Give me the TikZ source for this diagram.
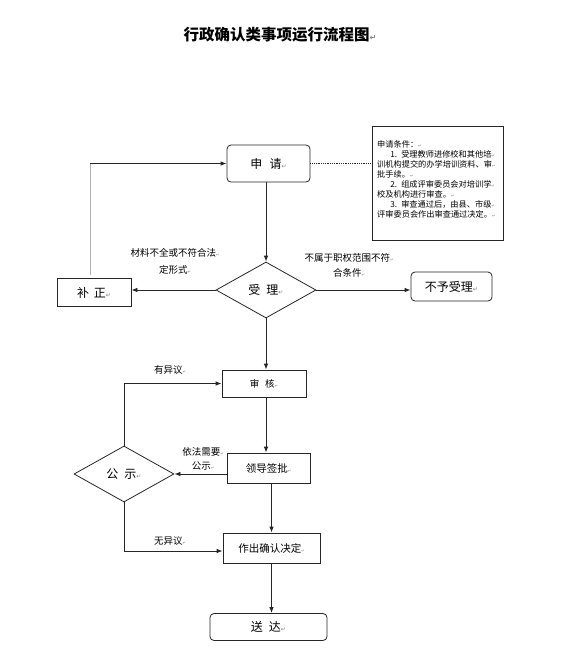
\documentclass[tikz,border=0pt]{standalone}
\usepackage{fontspec}
\newfontfamily\cjk{Noto Sans CJK SC}
\newfontfamily\dv{DejaVu Sans}
\usetikzlibrary{shapes.geometric,arrows.meta,calc}
\newcommand\pmk[1][6]{{\dv\fontsize{#1}{#1}\selectfont\color{gray}↵}}
\newcommand\fs[1]{\fontsize{#1}{#1}\selectfont}
\begin{document}
\begin{tikzpicture}[x=1pt,y=-1pt,
  every node/.style={font=\cjk, inner sep=0pt},
  box/.style={draw=black!85, line width=0.8pt, minimum width=#1, fill=white},
  rbox/.style={box=#1, rounded corners=4pt},
  dia/.style={draw=black!85, line width=0.8pt, diamond, minimum width=100pt, minimum height=56pt, aspect=1.8},
  lab/.style={align=center},
  arr/.style={-{Latex[length=6pt,width=4.5pt]}, line width=0.8pt, draw=black!85},
  ln/.style={line width=0.8pt, draw=black!85}]
\useasboundingbox[fill=white] (0,0) rectangle (580,670);

% title
\node (title) at (280,35) {\fs{15.5}\bfseries 行政确认类事项运行流程图\pmk[8]};

% nodes
\node[rbox=83pt, minimum height=37pt] (sq) at (268.5,163.5) {\fs{12}申\hspace{0.6em}请\pmk};
\node[box=131pt, minimum height=114pt] (note) at (437.5,183) {};
\node[anchor=north west, align=left, font=\cjk\fontsize{8.2}{10.1}\selectfont, text width=128pt] (notetext) at (377,140)
  {申请条件：\pmk[4]\\
   \hspace*{1.6em}1. 受理教师进修校和其他培\pmk[4]\\
   训机构提交的办学培训资料、审\pmk[4]\\
   批手续。\pmk[4]\\
   \hspace*{1.6em}2. 组成评审委员会对培训学\pmk[4]\\
   校及机构进行审查。\pmk[4]\\
   \hspace*{1.6em}3. 审查通过后，由县、市级\pmk[4]\\
   评审委员会作出审查通过决定。\pmk[4]};
\node[dia] (sl) at (266,290) {\fs{12}受\hspace{0.5em}理\pmk};
\node[box=74pt, minimum height=28pt] (bz) at (94,292.5) {\fs{12}补\hspace{0.4em}正\pmk};
\node[rbox=81pt, minimum height=29pt] (byl) at (451.5,286.5) {\fs{12}不予受理\pmk};
\node[box=84pt, minimum height=27pt] (sh) at (264,383.5) {\fs{9.5}审\hspace{0.6em}核\pmk[4]};
\node[box=83pt, minimum height=30pt] (ld) at (268.5,468) {\fs{10.5}领导签批\pmk[4]};
\node[dia] (gs) at (124,474) {\fs{12}公\hspace{0.5em}示\pmk};
\node[box=97pt, minimum height=30pt] (zc) at (271.5,548) {\fs{10.5}作出确认决定\pmk[4]};
\node[rbox=117pt, minimum height=27pt] (sd) at (268.5,627) {\fs{12}送\hspace{0.5em}达\pmk};

% labels
\node[lab, font=\cjk\fontsize{9.5}{17}\selectfont] (l1) at (175,261.5) {材料不全或不符合法\pmk[4]\\定形式\pmk[4]};
\node[lab, font=\cjk\fontsize{9.5}{15.5}\selectfont] (l2) at (349,265.5) {不属于职权范围不符\pmk[4]\\合条件\pmk[4]};
\node[font=\cjk\fs{9.5}] (l3) at (170,370) {有异议\pmk[4]};
\node[lab, font=\cjk\fontsize{9.5}{14}\selectfont] (l4) at (203,459) {依法需要\pmk[4]\\公示\pmk[4]};
\node[font=\cjk\fs{9.5}] (l5) at (170,541) {无异议\pmk[4]};

% connectors
\draw[ln, densely dotted, line width=0.6pt] (sq.east) -- (sq.east -| note.west);
\draw[arr] (sl.north |- sq.south) -- (sl.north);
\draw[arr] (sl.west) -- (sl.west -| bz.east);
\draw[arr] (sl.east) -- (sl.east -| byl.west);
\coordinate (bzup) at ($(bz.north)+(-4,-3)$);
\draw[line width=0.8pt, gray!60] (bzup) -- (bzup |- sq.west);
\draw[arr] (bzup |- sq.west) -- (sq.west);
\draw[arr] (sl.south) -- (sl.south |- sh.north);
\draw[arr] (sl.south |- sh.south) -- (sl.south |- ld.north);
\draw[arr] (ld.west |- gs.east) -- (gs.east);
\draw[arr] (gs.north) |- (sh.west);
\draw[arr] (zc.north |- ld.south) -- (zc.north);
\draw[arr] (gs.south) |- ($(zc.west)+(0,3)$);
\draw[arr] (zc.south) -- (zc.south |- sd.north);
\end{tikzpicture}
\end{document}
